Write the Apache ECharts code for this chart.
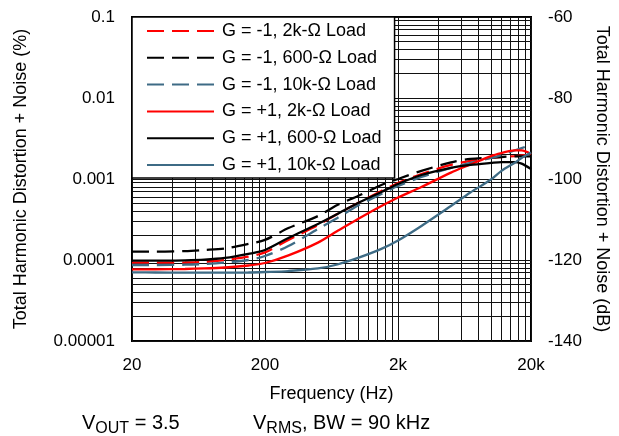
<!DOCTYPE html>
<html>
<head>
<meta charset="utf-8">
<script src="https://cdn.jsdelivr.net/npm/echarts@6/dist/echarts.min.js"></script>
<style>
    html, body { margin: 0; padding: 0; background: #fff; }
    #chart { width: 619px; height: 436px; }
</style>
</head>
<body>
<div id="chart"></div>
<script>
// frequencies (Hz) at which the curves were read
const freqs = [20, 30, 50, 70, 100, 150, 200, 300, 500, 700, 1000, 1500, 2000, 3000, 5000, 7000, 10000, 12000, 15000, 17000, 20000];

// THD+N (%) per curve
const gm1Load2k = [9.26e-5, 9.26e-5, 9.31e-5, 9.45e-5, 1.0e-4, 1.10e-4, 1.24e-4, 1.77e-4, 2.70e-4, 3.70e-4, 5.05e-4, 7.11e-4, 8.92e-4, 1.15e-3, 1.49e-3, 1.67e-3, 1.82e-3, 1.87e-3, 1.92e-3, 1.95e-3, 1.98e-3];
const gm1Load600 = [1.27e-4, 1.27e-4, 1.29e-4, 1.33e-4, 1.39e-4, 1.58e-4, 1.77e-4, 2.48e-4, 3.49e-4, 4.78e-4, 6.17e-4, 8.43e-4, 1.0e-3, 1.26e-3, 1.60e-3, 1.77e-3, 1.84e-3, 1.87e-3, 1.90e-3, 1.90e-3, 1.90e-3];
const gm1Load10k = [8.68e-5, 8.68e-5, 8.75e-5, 8.92e-5, 9.31e-5, 1.0e-4, 1.12e-4, 1.49e-4, 2.41e-4, 3.30e-4, 4.71e-4, 6.53e-4, 8.19e-4, 1.06e-3, 1.37e-3, 1.58e-3, 1.82e-3, 1.98e-3, 2.25e-3, 2.41e-3, 2.63e-3];
const gp1Load2k = [7.68e-5, 7.68e-5, 7.74e-5, 7.86e-5, 8.08e-5, 8.55e-5, 9.18e-5, 1.14e-4, 1.64e-4, 2.28e-4, 3.21e-4, 4.64e-4, 5.91e-4, 7.96e-4, 1.20e-3, 1.51e-3, 1.92e-3, 2.09e-3, 2.26e-3, 2.25e-3, 2.04e-3];
const gp1Load600 = [9.80e-5, 9.80e-5, 9.92e-5, 1.01e-4, 1.06e-4, 1.19e-4, 1.33e-4, 1.87e-4, 2.78e-4, 3.70e-4, 5.05e-4, 6.91e-4, 8.68e-4, 1.12e-3, 1.37e-3, 1.49e-3, 1.58e-3, 1.62e-3, 1.62e-3, 1.55e-3, 1.33e-3];
const gp1Load10k = [7.05e-5, 7.01e-5, 6.97e-5, 6.97e-5, 6.97e-5, 7.01e-5, 7.11e-5, 7.31e-5, 7.86e-5, 8.80e-5, 1.06e-4, 1.37e-4, 1.74e-4, 2.63e-4, 4.64e-4, 6.81e-4, 9.86e-4, 1.26e-3, 1.58e-3, 1.82e-3, 2.12e-3];

const seriesNames = ['G = -1, 2k-Ω Load', 'G = -1, 600-Ω Load', 'G = -1, 10k-Ω Load', 'G = +1, 2k-Ω Load', 'G = +1, 600-Ω Load', 'G = +1, 10k-Ω Load'];

// tick labels
const xLabelValues = [20, 200, 2000, 20000];
const xTickLabels = ['20', '200', '2k', '20k'];
const yLabelValues = [0.00001, 0.0001, 0.001, 0.01, 0.1];
const yTickLabels = ['0.00001', '0.0001', '0.001', '0.01', '0.1'];

// log grid lines: 1..9 in every decade
const xGridValues = [];
[20, 200, 2000].forEach(d => { for (let k = 1; k < 10; k++) xGridValues.push(d * k); });
xGridValues.push(20000);
const yGridValues = [];
[1e-5, 1e-4, 1e-3, 1e-2].forEach(d => { for (let k = 1; k < 10; k++) yGridValues.push(d * k); });
yGridValues.push(0.1);

const RED = '#ff0000';
const BLACK = '#000000';
const BLUE = '#3e6b85';
const DASH = [17, 8];
const FONT = '"Liberation Sans", Arial, sans-serif';

const pickLabel = (values, labels, v) => {
    for (let i = 0; i < values.length; i++) {
        if (Math.abs(Math.log10(v / values[i])) < 1e-6) return labels[i];
    }
    return '';
};

const curves = [
    { data: gm1Load2k, color: RED, dash: DASH },
    { data: gm1Load600, color: BLACK, dash: DASH },
    { data: gm1Load10k, color: BLUE, dash: DASH },
    { data: gp1Load2k, color: RED, dash: 'solid' },
    { data: gp1Load600, color: BLACK, dash: 'solid' },
    { data: gp1Load10k, color: BLUE, dash: 'solid' }
];

// V_OUT / V_RMS style text with subscript
const noteRich = {
    v: { fontSize: 20, lineHeight: 28, fontFamily: FONT, fill: '#000' },
    s: { fontSize: 16, lineHeight: 16, verticalAlign: 'bottom', fontFamily: FONT, fill: '#000' }
};

const chart = echarts.init(document.getElementById('chart'));

const option = {
    animation: false,
    textStyle: { fontFamily: FONT, color: '#000' },
    grid: {
        left: 132, right: 88, top: 17, bottom: 95,
        show: true, borderColor: '#000', borderWidth: 2
    },
    legend: {
        orient: 'vertical',
        left: 132,
        top: 17,
        padding: [4, 13, 3, 14],
        itemWidth: 67,
        itemHeight: 20,
        itemGap: 6.8,
        backgroundColor: '#fff',
        borderColor: '#000',
        borderWidth: 1.5,
        itemStyle: { opacity: 0 },
        textStyle: { fontSize: 18, color: '#000', lineHeight: 20, padding: [0, 0, 0, 3], fontFamily: FONT },
        data: seriesNames
    },
    xAxis: {
        type: 'log',
        logBase: 10,
        min: 20,
        max: 20000,
        name: 'Frequency (Hz)',
        nameLocation: 'middle',
        nameGap: 44,
        nameTextStyle: { fontSize: 18, color: '#000', fontFamily: FONT },
        axisLine: { show: false },
        axisTick: { show: false, customValues: xGridValues },
        axisLabel: {
            customValues: xLabelValues,
            margin: 16,
            fontSize: 17,
            color: '#000',
            formatter: v => pickLabel(xLabelValues, xTickLabels, v)
        },
        splitLine: { show: true, lineStyle: { color: '#111', width: 1 } }
    },
    yAxis: [
        {
            type: 'log',
            logBase: 10,
            min: 0.00001,
            max: 0.1,
            name: 'Total Harmonic Distortion + Noise (%)',
            nameLocation: 'middle',
            nameRotate: 90,
            nameGap: 102,
            nameTextStyle: { fontSize: 18, color: '#000', fontFamily: FONT },
            axisLine: { show: false },
            axisTick: { show: false, customValues: yGridValues },
            axisLabel: {
                customValues: yLabelValues,
                margin: 17,
                fontSize: 17,
                color: '#000',
                formatter: v => pickLabel(yLabelValues, yTickLabels, v)
            },
            splitLine: { show: true, lineStyle: { color: '#111', width: 1 } }
        },
        {
            type: 'value',
            position: 'right',
            min: -140,
            max: -60,
            interval: 20,
            name: 'Total Harmonic Distortion + Noise (dB)',
            nameLocation: 'middle',
            nameRotate: -90,
            nameGap: 60,
            nameTextStyle: { fontSize: 18, color: '#000', fontFamily: FONT },
            axisLine: { show: false },
            axisTick: { show: false },
            axisLabel: { margin: 17, fontSize: 17, color: '#000' },
            splitLine: { show: false }
        }
    ],
    series: curves.map((c, i) => ({
        name: seriesNames[i],
        type: 'line',
        xAxisIndex: 0,
        yAxisIndex: 0,
        symbol: 'none',
        smooth: 0.3,
        data: freqs.map((f, j) => [f, c.data[j]]),
        lineStyle: { color: c.color, width: 2.3, type: c.dash },
        itemStyle: { color: c.color }
    })),
    graphic: [
        {
            type: 'text', left: 82, top: 413,
            style: { text: '{v|V}{s|OUT}{v| = 3.5}', rich: noteRich }
        },
        {
            type: 'text', left: 253, top: 413,
            style: { text: '{v|V}{s|RMS}{v|, BW = 90 kHz}', rich: noteRich }
        }
    ]
};

chart.setOption(option);
</script>
</body>
</html>
